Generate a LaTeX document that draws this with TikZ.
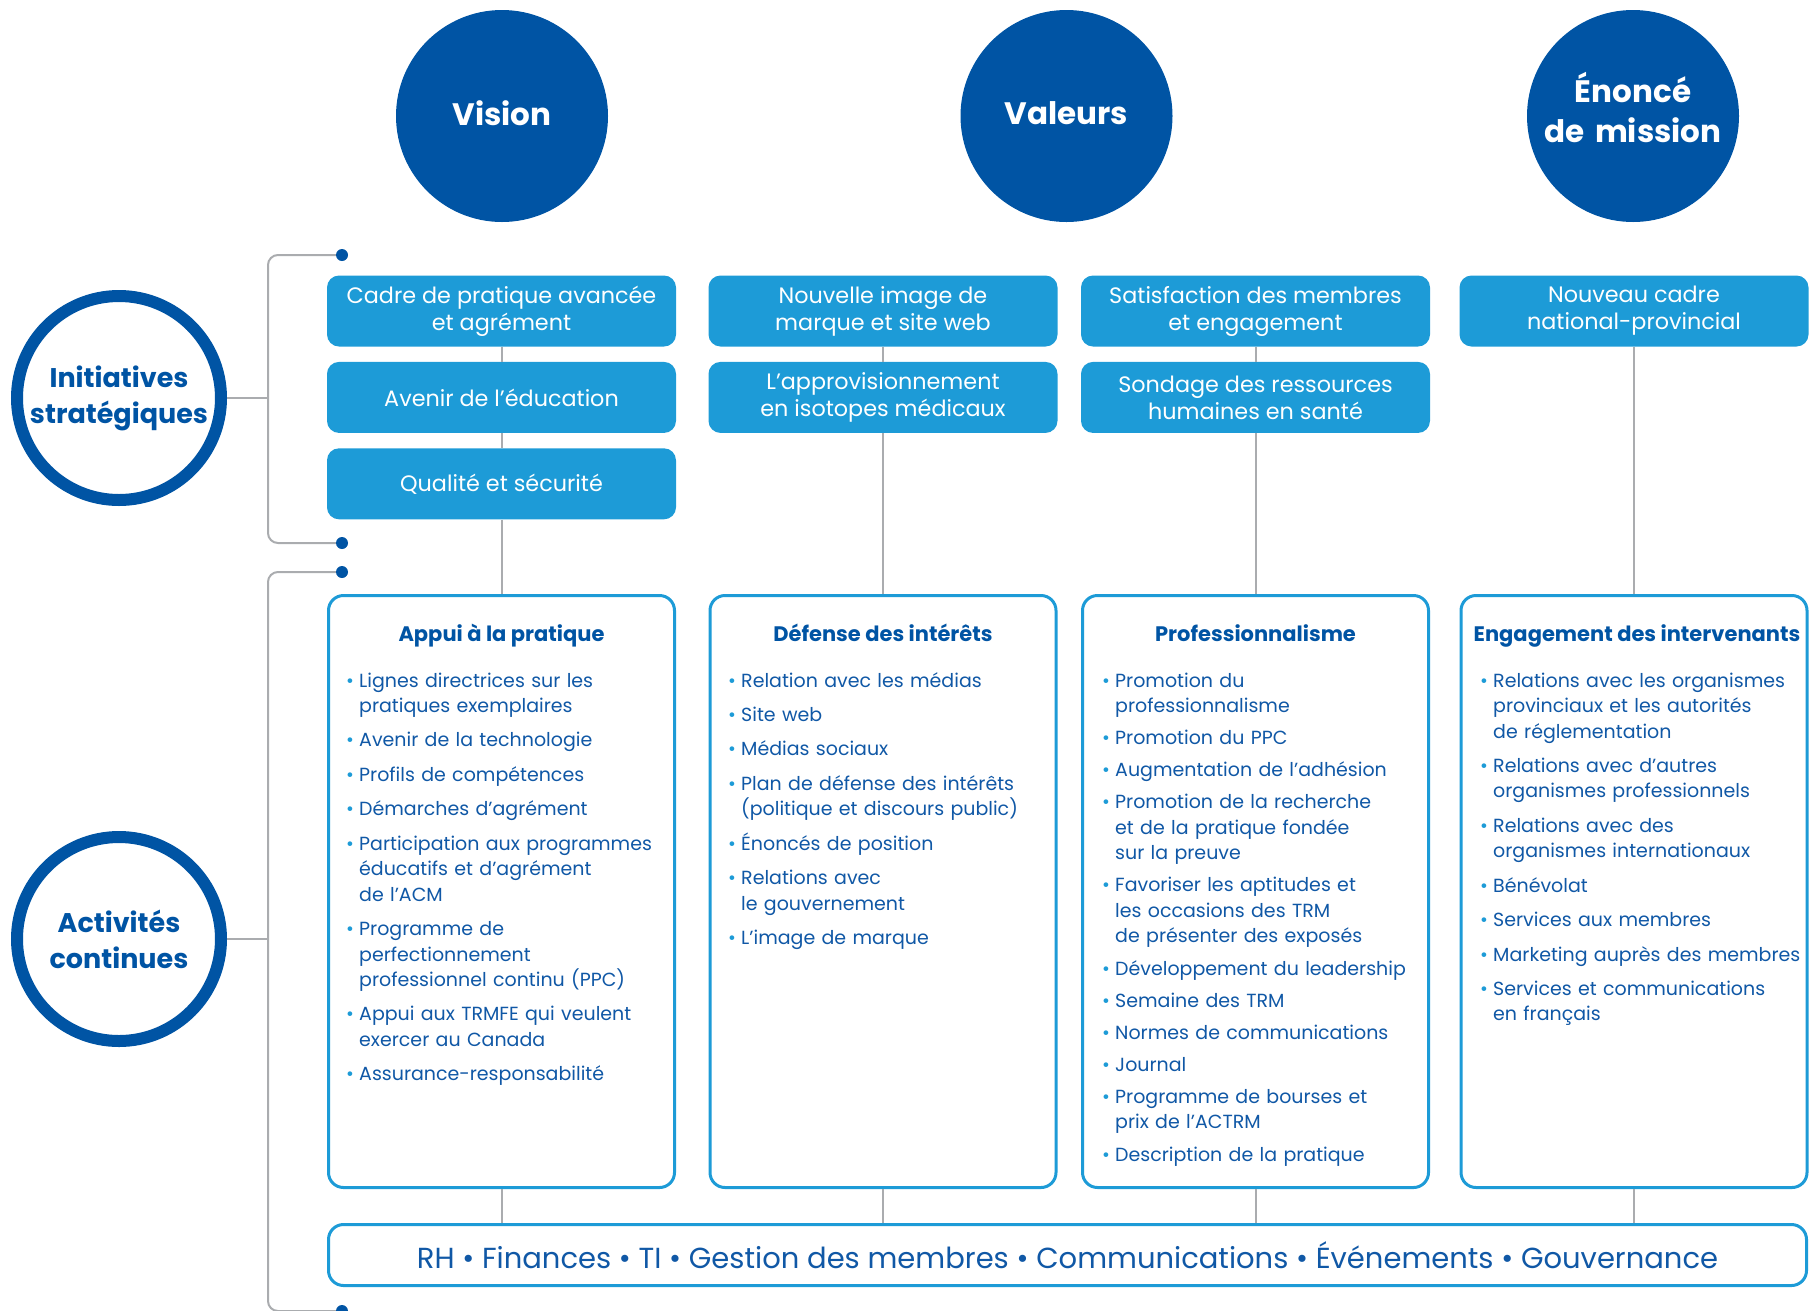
\documentclass[tikz,border=0pt]{standalone}
\usepackage{fontspec}
\setmainfont{Poppins}
\usetikzlibrary{positioning}

\definecolor{dblue}{RGB}{0,84,164}
\definecolor{tblue}{RGB}{16,88,166}
\definecolor{lblue}{RGB}{29,155,215}
\definecolor{lgray}{RGB}{170,172,175}

% one bullet line of an activity list
\newcommand{\actitem}[1]{\hangindent=13pt \hangafter=1 \makebox[13pt][l]{\textcolor{lblue}{•}}#1\par}

\begin{document}
\begin{tikzpicture}[x=1pt,y=-1pt,node distance=15pt,
  link/.style={draw=lgray, line width=2pt},
  pillar/.style={circle, fill=dblue, minimum size=212pt, inner sep=0pt, text=white, align=center, text depth=5pt, font=\fontsize{31}{40}\selectfont\bfseries},
  ring/.style={circle, draw=dblue, line width=12pt, fill=white, minimum size=204pt, inner sep=0pt, text=dblue, align=center, font=\fontsize{27}{36}\selectfont\bfseries},
  initbox/.style={rectangle, rounded corners=12pt, fill=lblue, minimum width=349pt, minimum height=71pt, inner sep=0pt, text=white, align=center, font=\fontsize{22.3}{27}\selectfont},
  actbox/.style={rectangle, rounded corners=15pt, draw=lblue, line width=3pt, fill=white, minimum width=346pt, minimum height=592pt},
  barbox/.style={rectangle, rounded corners=15pt, draw=lblue, line width=3pt, fill=white, minimum width=1478pt, minimum height=61pt, text=tblue, font=\fontsize{29}{36}\selectfont},
  acttitle/.style={anchor=base, inner sep=0pt, text=dblue, font=\fontsize{21}{25}\selectfont\bfseries},
  itemlist/.style={anchor=base west, text width=340pt, inner sep=0pt, align=left, text=tblue, font=\fontsize{19}{25.5}\selectfont,
    execute at begin node={\setlength{\parskip}{#1}\hyphenpenalty=10000 }},
  itemlist/.default=8.9pt,
  enddot/.style={circle, fill=dblue, minimum size=12pt, inner sep=0pt}]
\useasboundingbox (0,0) rectangle (1815,1310);

% top
\node[pillar] (vision) at (502,116) {Vision};
\node[pillar] (valeurs) at (1066.5,116) {Valeurs};
\node[pillar, text width=200pt, text height=10pt, text depth=37pt] (mission) at (1633,116) {Énoncé\\de mission};

% left
\node[ring] (initc) at (119,398) {Initiatives\\stratégiques};
\node[ring] (actc) at (119,939) {Activités\\continues};

\node[enddot] (d1) at (342,255) {};
\node[enddot] (d2) at (342,543) {};
\node[enddot] (d3) at (342,572) {};
\node[enddot] (d4) at (342,1311) {};
\coordinate (b1) at (268,398);
\coordinate (b2) at (268,939);
\draw[link, rounded corners=10pt] (d1) -| (b1) |- (d2);
\draw[link, rounded corners=10pt] (d3) -| (b2) |- (d4);
\draw[link] (initc) -- (b1);
\draw[link] (actc) -- (b2);

% initiatives
\node[initbox] (c1a) at (501.5,311) {Cadre de pratique avancée\\et agrément};
\node[initbox, below=of c1a] (c1b) {Avenir de l’éducation};
\node[initbox, below=of c1b] (c1c) {Qualité et sécurité};
\node[initbox] (c2a) at (883,311) {Nouvelle image de\\marque et site web};
\node[initbox, below=of c2a] (c2b) {L’approvisionnement\\en isotopes médicaux};
\node[initbox] (c3a) at (1255.5,311) {Satisfaction des membres\\et engagement};
\node[initbox, below=of c3a] (c3b) {Sondage des ressources\\humaines en santé};
\node[initbox] (c4a) at (1634,311) {Nouveau cadre\\national-provincial};

% activities
\node[actbox] (act1) at (501.5,891.5) {};
\node[actbox] (act2) at (883,891.5) {};
\node[actbox] (act3) at (1255.5,891.5) {};
\node[actbox] (act4) at (1634,891.5) {};
\node[barbox] (bar) at (1067.5,1255) {RH • Finances • TI • Gestion des membres • Communications • Événements • Gouvernance};

\draw[link] (c1a) -- (c1b) -- (c1c) -- (act1);
\draw[link] (c2a) -- (c2b) -- (act2);
\draw[link] (c3a) -- (c3b) -- (act3);
\draw[link] (c4a) -- (act4);
\foreach \a in {act1,act2,act3,act4}
  \draw[link] (\a) -- (\a |- bar.north);

\node[acttitle] (t1) at (501.5,641) {Appui à la pratique};
\node[acttitle] (t2) at (883,641) {Défense des intérêts};
\node[acttitle] (t3) at (1255.5,641) {Professionnalisme};
\node[acttitle] (t4) at (1637,641) {Engagement des intervenants};

\node[itemlist] (l1) at (346,687) {%
  \actitem{Lignes directrices sur les\newline pratiques exemplaires}
  \actitem{Avenir de la technologie}
  \actitem{Profils de compétences}
  \actitem{Démarches d’agrément}
  \actitem{Participation aux programmes\newline éducatifs et d’agrément\newline de l’ACM}
  \actitem{Programme de\newline perfectionnement\newline professionnel continu (PPC)}
  \actitem{Appui aux TRMFE qui veulent\newline exercer au Canada}
  \actitem{Assurance-responsabilité}};
\node[itemlist] (l2) at (728,687) {%
  \actitem{Relation avec les médias}
  \actitem{Site web}
  \actitem{Médias sociaux}
  \actitem{Plan de défense des intérêts\newline (politique et discours public)}
  \actitem{Énoncés de position}
  \actitem{Relations avec\newline le gouvernement}
  \actitem{L’image de marque}};
\node[itemlist=6.6pt] (l3) at (1102,687) {%
  \actitem{Promotion du\newline professionnalisme}
  \actitem{Promotion du PPC}
  \actitem{Augmentation de l’adhésion}
  \actitem{Promotion de la recherche\newline et de la pratique fondée\newline sur la preuve}
  \actitem{Favoriser les aptitudes et\newline les occasions des TRM\newline de présenter des exposés}
  \actitem{Développement du leadership}
  \actitem{Semaine des TRM}
  \actitem{Normes de communications}
  \actitem{Journal}
  \actitem{Programme de bourses et\newline prix de l’ACTRM}
  \actitem{Description de la pratique}};
\node[itemlist] (l4) at (1480,687) {%
  \actitem{Relations avec les organismes\newline provinciaux et les autorités\newline de réglementation}
  \actitem{Relations avec d’autres\newline organismes professionnels}
  \actitem{Relations avec des\newline organismes internationaux}
  \actitem{Bénévolat}
  \actitem{Services aux membres}
  \actitem{Marketing auprès des membres}
  \actitem{Services et communications\newline en français}};
\end{tikzpicture}
\end{document}
